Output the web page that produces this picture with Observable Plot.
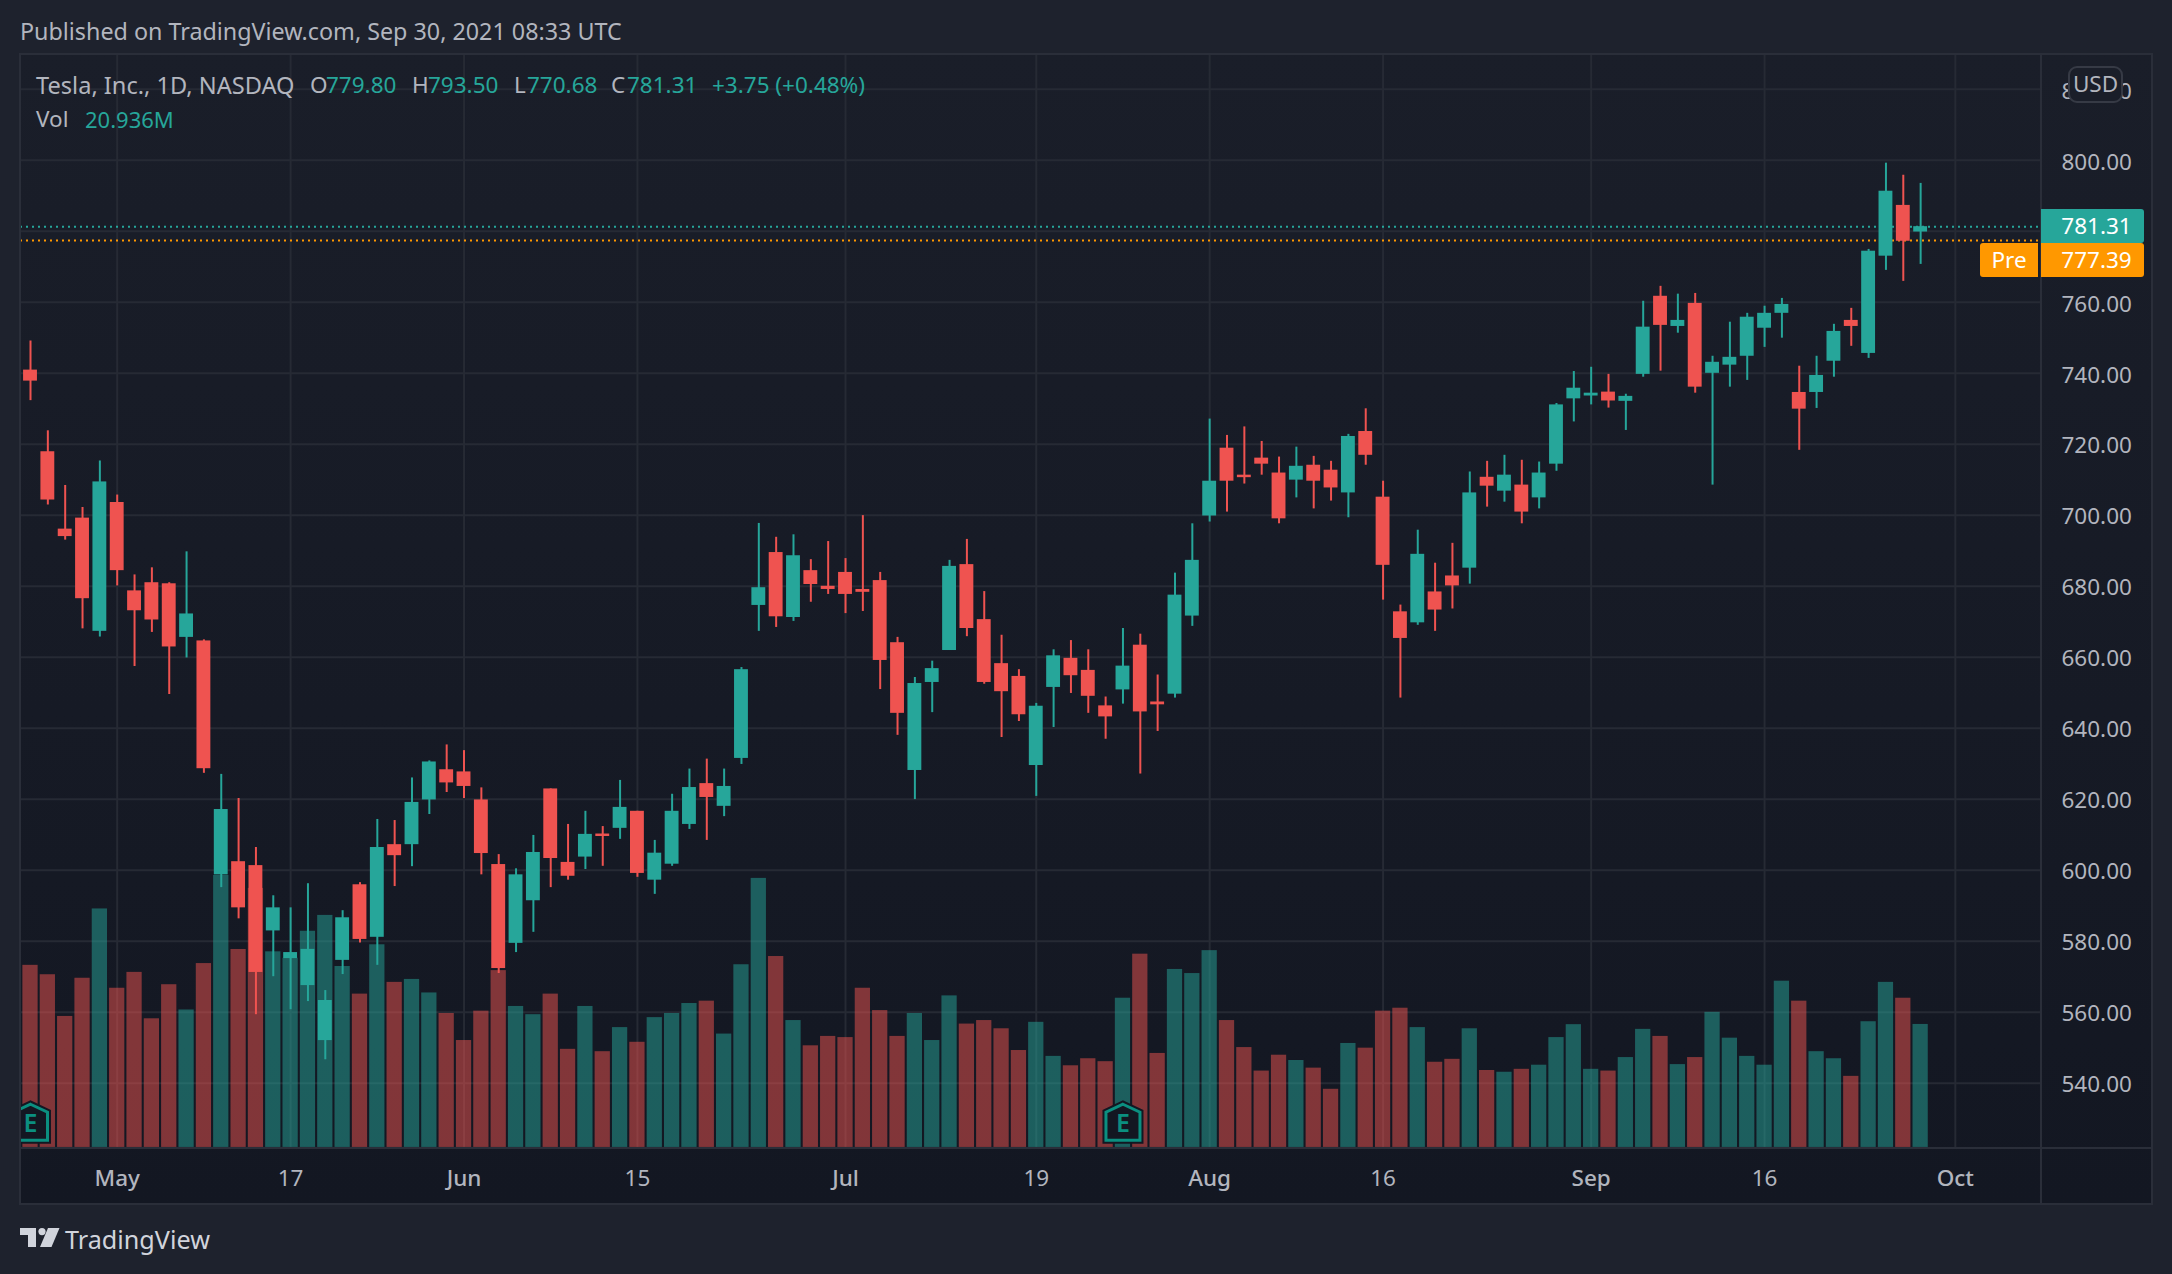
<!DOCTYPE html>
<html>
<head>
<meta charset="utf-8">
<title>Tesla, Inc. 1D</title>
<script src="https://cdn.jsdelivr.net/npm/d3@7"></script>
<script src="https://cdn.jsdelivr.net/npm/@observablehq/plot@0.6"></script>
<style>
  html, body { margin: 0; padding: 0; background: #1e222d; }
  body { width: 2172px; height: 1274px; position: relative; overflow: hidden; font-family: "Noto Sans", sans-serif; color: #b2b5be; }
  .t { position: absolute; font-size: 22.5px; line-height: 30px; white-space: nowrap; }
  .up { color: #26a69a; }
  .line { position: absolute; background: #2a2e39; }
  #chart { position: absolute; left: 20px; top: 53px; }
  #chart svg { display: block; }
  .badge { position: absolute; color: #fff; font-size: 22.5px; text-align: center; }
</style>
</head>
<body>
<div class="t" style="left:20px;top:16px;font-size:23.3px">Published on TradingView.com, Sep 30, 2021 08:33 UTC</div>
<div id="chart"></div>

<!-- frame -->
<div class="line" style="left:19px;top:53px;width:2134px;height:2px"></div>
<div class="line" style="left:19px;top:1203px;width:2134px;height:2px"></div>
<div class="line" style="left:19px;top:53px;width:2px;height:1152px"></div>
<div class="line" style="left:2151px;top:53px;width:2px;height:1152px"></div>
<div class="line" style="left:2040px;top:53px;width:2px;height:1152px"></div>
<div class="line" style="left:19px;top:1147px;width:2134px;height:2px"></div>

<!-- legend -->
<div class="t" style="left:36px;top:70px;font-size:23.6px">Tesla, Inc., 1D, NASDAQ</div>
<div class="t" style="left:310px;top:70px">O</div><div class="t up" style="left:326px;top:70px">779.80</div>
<div class="t" style="left:412px;top:70px">H</div><div class="t up" style="left:428px;top:70px">793.50</div>
<div class="t" style="left:514px;top:70px">L</div><div class="t up" style="left:527px;top:70px">770.68</div>
<div class="t" style="left:611px;top:70px">C</div><div class="t up" style="left:627px;top:70px">781.31</div>
<div class="t up" style="left:712px;top:70px">+3.75 (+0.48%)</div>
<div class="t" style="left:36px;top:104px">Vol</div><div class="t up" style="left:85px;top:104px;font-size:22px">20.936M</div>

<!-- price tags -->
<div class="badge" style="left:2068px;top:66px;width:51px;height:33px;line-height:32px;border:2px solid #363a45;border-radius:9px;background:#1a1e29;color:#b2b5be">USD</div>
<div class="badge" style="left:2041px;top:209px;width:95px;height:34px;line-height:34px;background:#26a69a;border-radius:0 3px 3px 0;padding-left:8px">781.31</div>
<div class="badge" style="left:1980px;top:243px;width:58px;height:34px;line-height:34px;background:#ff9800;border-radius:3px 0 0 3px">Pre</div>
<div class="badge" style="left:2041px;top:243px;width:95px;height:34px;line-height:34px;background:#ff9800;border-radius:0 3px 3px 0;padding-left:8px">777.39</div>

<!-- logo -->
<svg style="position:absolute;left:20px;top:1228px" width="40" height="20" viewBox="0 0 40 20">
  <path fill="#d1d4dc" d="M0 0H16V19H8V7H0Z"/><circle fill="#d1d4dc" cx="22" cy="3.6" r="3.6"/><path fill="#d1d4dc" d="M28 0H39.5L31.5 19H20Z"/>
</svg>
<div class="t" style="left:65px;top:1224px;font-size:25.2px;color:#d1d4dc">TradingView</div>

<script>
const opens = [740.9,717.9,696.1,699.2,667.3,703.6,678.7,681.0,680.7,665.6,664.6,598.7,602.4,601.3,582.9,575.1,567.5,552.0,574.6,595.9,581.1,607.2,607.2,619.8,628.3,627.7,619.8,601.6,579.4,591.4,622.9,602.2,603.7,610.2,611.8,616.6,597.2,601.7,612.9,624.4,618.0,631.5,674.6,689.5,671.2,684.4,680.0,683.9,679.1,681.6,664.1,628.1,652.9,661.9,686.1,670.6,658.2,654.6,629.5,651.5,659.7,656.3,646.3,650.8,663.4,647.4,649.6,671.6,699.8,718.9,711.3,716.1,711.9,709.9,714.1,712.7,706.3,723.6,705.1,672.8,669.7,678.4,682.9,685.1,710.7,706.8,708.5,704.9,714.4,732.8,733.6,734.7,732.1,739.7,761.7,753.2,759.7,740.0,742.3,744.8,752.7,756.9,734.6,734.6,743.4,754.9,745.6,773.0,787.3,779.8];
const highs = [749.1,723.8,708.4,702.2,715.3,705.7,683.2,685.2,681.0,689.7,664.9,627.0,620.2,606.4,592.8,589.4,596.2,566.1,588.6,596.5,614.3,614.0,626.0,630.8,635.3,633.7,623.2,604.4,600.4,609.8,622.9,612.9,616.6,612.3,625.3,616.6,608.4,621.4,628.5,631.3,628.5,657.1,697.7,693.8,694.5,687.5,692.6,687.8,699.9,683.9,665.6,654.3,658.9,687.3,693.2,678.5,666.2,656.5,647.0,662.1,664.7,662.1,648.8,668.1,666.5,655.0,683.7,697.6,727.1,722.5,724.9,720.8,716.4,719.2,716.6,715.2,722.8,730.0,709.6,674.7,695.8,686.5,692.1,712.2,715.2,716.9,715.5,715.0,731.5,740.5,741.7,739.7,734.1,760.3,764.5,762.3,762.5,744.8,754.4,756.9,758.9,761.1,742.0,744.8,753.8,758.3,774.9,799.2,795.8,793.5];
const lows = [732.3,702.9,693.0,668.0,665.7,680.1,657.4,667.0,649.5,659.8,627.3,595.1,586.3,559.3,570.0,560.7,563.0,546.6,570.6,579.5,573.2,595.4,601.0,615.7,621.9,620.2,598.7,570.9,576.8,582.5,595.1,597.2,600.2,601.1,608.7,598.0,593.2,601.1,611.5,608.4,615.1,629.8,667.3,668.4,670.1,675.5,677.7,672.3,672.9,650.9,638.0,619.9,644.4,661.9,665.8,652.4,637.4,641.9,620.8,640.2,649.8,644.2,636.9,646.8,627.1,639.1,648.5,668.7,698.1,700.9,708.8,711.3,697.6,704.9,701.8,704.0,699.3,714.1,676.1,648.5,669.0,667.3,673.6,680.6,702.3,703.7,697.6,701.8,712.4,726.3,731.1,730.2,723.9,738.9,740.6,751.3,734.4,708.5,736.1,738.0,747.3,749.9,718.3,730.1,738.9,747.6,744.2,769.0,765.9,770.68];
const closes = [737.8,704.3,694.0,676.5,709.4,684.4,673.1,670.5,662.9,672.2,628.6,617.1,589.4,571.2,589.4,576.8,577.7,563.3,586.6,580.5,606.4,604.1,619.1,630.5,624.6,623.6,604.7,572.3,598.7,605.0,603.3,598.3,610.1,609.5,617.7,599.1,604.8,616.6,623.3,620.5,623.6,656.5,679.6,671.4,688.6,680.5,679.1,677.7,678.3,659.1,644.2,652.6,656.8,685.6,668.1,652.9,650.3,643.8,646.2,660.4,654.8,649.0,643.2,657.5,644.6,646.6,677.5,687.3,709.6,709.6,710.6,714.4,699.0,713.8,709.6,707.7,722.2,716.9,685.9,665.3,689.0,673.3,680.1,706.3,708.2,711.3,700.9,711.9,731.1,735.8,734.4,732.2,733.5,753.0,753.5,754.9,736.1,743.1,744.5,755.8,756.9,759.4,729.9,739.4,751.8,753.2,774.4,791.3,777.2,781.31];
const volumes = [31.0,29.4,22.3,28.8,40.6,27.1,29.8,21.9,27.7,23.4,31.3,46.3,33.7,44.1,33.3,32.2,36.8,39.5,30.8,26.1,34.5,28.1,28.6,26.3,22.8,18.2,23.2,30.1,24.0,22.6,26.1,16.7,24.0,16.3,20.4,17.9,22.1,22.8,24.5,24.9,19.3,31.1,45.8,32.5,21.6,17.3,18.9,18.7,27.1,23.3,18.9,22.8,18.2,25.8,21.0,21.6,20.2,16.5,21.3,15.5,13.9,15.1,14.6,25.4,32.9,16.0,30.3,29.6,33.5,21.6,17.0,13.0,15.7,14.8,13.5,9.9,17.7,16.9,23.2,23.7,20.4,14.5,15.0,20.2,13.1,12.8,13.3,14.0,18.7,20.9,13.3,13.0,15.3,20.1,18.9,14.1,15.3,23.0,18.6,15.5,14.0,28.3,24.9,16.3,15.1,12.1,21.4,28.1,25.4,20.936];

const priceTicks = [540,560,580,600,620,640,660,680,700,720,740,760,780,800,820];
// 780.00 sits under the last price tag, so it gets a line but no label
const priceLabels = priceTicks.filter(d => d !== 780);
const monthTicks = [5,25,47,68,90,111];
const monthLabels = ["May","Jun","Jul","Aug","Sep","Oct"];
const dayTicks = [15,35,58,78,100];
const dayLabels = ["17","15","19","16","16"];
const earnings = [0,63];

const up = "#26a69a", down = "#ef5350";

// volume shares the pane, so turn millions into price units from the pane floor
const yMin = 521.6, yMax = 830.1, volUnit = 1.655;

const bars = d3.range(closes.length).map(i => ({
  i, o: opens[i], h: highs[i], l: lows[i], c: closes[i], v: volumes[i],
  color: closes[i] >= opens[i] ? up : down
}));

// earnings flag
const flag = {draw(ctx) {
  ctx.moveTo(0,-18); ctx.lineTo(17,-10); ctx.lineTo(17,18); ctx.lineTo(-17,18); ctx.lineTo(-17,-10); ctx.closePath();
}};

const font = "Noto Sans, sans-serif";

let chart = Plot.plot({
  width: 2132,
  height: 1151,
  marginLeft: 0,
  marginRight: 111,
  marginTop: 0,
  marginBottom: 56,
  x: {type: "linear", domain: [-0.577, 115.97]},
  y: {domain: [yMin, yMax]},
  style: {
    background: "linear-gradient(#1a1e29, #131722)",
    fontFamily: font,
    color: "#b2b5be",
  },
  marks: [
    Plot.ruleY(priceTicks, {stroke: "#262a34", strokeWidth: 2}),
    Plot.ruleX(monthTicks.concat(dayTicks), {stroke: "#262a34", strokeWidth: 2}),

    Plot.rect(bars, {
      x1: d => d.i - 0.44, x2: d => d.i + 0.44,
      y1: yMin + 0.3, y2: d => yMin + 0.3 + d.v * volUnit,
      fill: "color", fillOpacity: 0.5
    }),

    Plot.ruleY([781.31], {stroke: up, strokeWidth: 2, strokeDasharray: "2 4"}),
    Plot.ruleY([777.39], {stroke: "#ff9800", strokeWidth: 2, strokeDasharray: "2 4"}),

    Plot.ruleX(bars, {x: "i", y1: "l", y2: "h", stroke: "color", strokeWidth: 2}),
    Plot.rect(bars, {
      x1: d => d.i - 0.4, x2: d => d.i + 0.4,
      y1: "o", y2: d => Math.abs(d.c - d.o) < 0.6 ? d.o + 0.6 : d.c,
      fill: "color"
    }),

    Plot.dot(earnings, {x: d => d, y: 529, symbol: flag, r: 10, fill: "#131722", stroke: "#131722", strokeWidth: 7, clip: true}),
    Plot.dot(earnings, {x: d => d, y: 529, symbol: flag, r: 10, fill: "#131722", stroke: "#0b8f80", strokeWidth: 3, clip: true}),
    Plot.text(earnings, {x: d => d, y: 529, text: () => "E", fill: "#0b8f80", fontSize: 25, fontWeight: 600, dy: 2, clip: true}),

    Plot.axisY({anchor: "right", ticks: priceLabels, tickFormat: d3.format(".2f"), tickSize: 0, tickPadding: 20, dy: 2, fontSize: 22.5, fill: "#b2b5be", label: null}),
    Plot.axisX({ticks: monthTicks, tickFormat: d => monthLabels[monthTicks.indexOf(d)], tickSize: 0, tickPadding: 22, fontSize: 22.5, fontWeight: 500, fill: "#b2b5be", label: null}),
    Plot.axisX({ticks: dayTicks, tickFormat: d => dayLabels[dayTicks.indexOf(d)], tickSize: 0, tickPadding: 22, fontSize: 22.5, fill: "#b2b5be", label: null}),
  ],
});

d3.select("#chart").append(() => chart);
</script>
</body>
</html>
